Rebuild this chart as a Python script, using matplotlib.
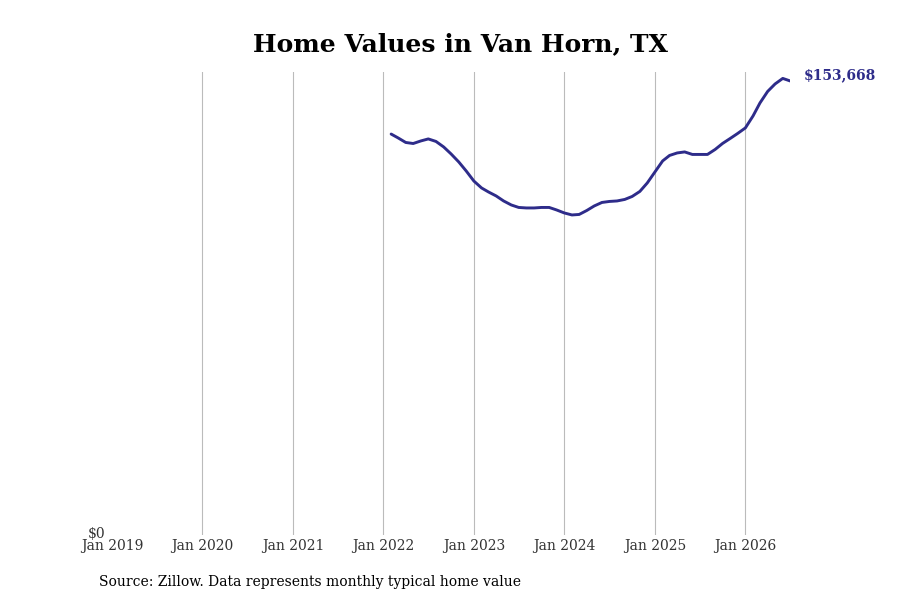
import matplotlib
matplotlib.use("Agg")
import matplotlib.pyplot as plt
import matplotlib.transforms as mtransforms
import pandas as pd

plot_title = "Home Values in Van Horn, TX"
source_text = "Source: Zillow. Data represents monthly typical home value"

# monthly typical home value, Feb 2022 .. Jul 2026
months = pd.date_range("2022-02-01", "2026-07-01", freq="MS")
values = [
    135700, 134400, 132850, 132500, 133370, 134050, 133200, 131340, 128970, 126260, 123210,   # 2022
    119800, 117460, 116100, 114750, 113060, 111700, 110860, 110690, 110690, 110860, 110860, 110010,  # 2023
    109000, 108320, 108490, 109840, 111370, 112550, 112890, 113060, 113570, 114580, 116280, 119150,  # 2024
    122880, 126600, 128460, 129310, 129650, 128800, 128800, 128800, 130490, 132520, 134220, 135910,  # 2025
    137770, 141830, 146230, 150130, 152660, 154530, 153668,  # 2026
]
last_label = "$153,668"

tick_years = list(range(2019, 2027))
tick_dates = [pd.Timestamp(f"{y}-01-01") for y in tick_years]
tick_labels = [f"Jan {y}" for y in tick_years]

line_color = "#2e2c8a"

plt.rcParams["font.family"] = ["DejaVu Serif"]

fig = plt.figure(figsize=(9, 6), dpi=100)
ax = fig.add_axes([0.1244, 0.1083, 0.7536, 0.7717])

ax.plot(months, values, color=line_color, linewidth=2.1, solid_capstyle="round")

ax.set_xlim(pd.Timestamp("2019-01-01"), months[-1])
ax.set_ylim(0, 156700)

ax.set_xticks(tick_dates)
ax.set_xticklabels(tick_labels)
ax.set_yticks([0])
ax.set_yticklabels(["$0"])
ax.tick_params(axis="both", length=0, labelsize=10, colors="#333333")
ax.tick_params(axis="x", pad=3)
ax.tick_params(axis="y", pad=5)
# lift "$0" a few pixels so it sits just above the first date label
lift = mtransforms.ScaledTranslation(0, 3 / 100, fig.dpi_scale_trans)
for lbl in ax.get_yticklabels():
    lbl.set_transform(lbl.get_transform() + lift)

ax.grid(axis="x", color="#bbbbbb", linewidth=0.8)
ax.grid(axis="y", visible=False)
ax.xaxis.get_gridlines()[0].set_visible(False)
for s in ax.spines.values():
    s.set_visible(False)

ax.annotate(last_label, xy=(months[-1], values[-1]), xytext=(10, 4),
            textcoords="offset points", color=line_color, fontsize=10,
            fontweight="bold", va="center", ha="left", annotation_clip=False)

fig.text(0.512, 0.927, plot_title, ha="center", va="center",
         fontsize=18, fontweight="bold", color="black")
fig.text(0.11, 0.03, source_text, ha="left", va="center", fontsize=10, color="black")

fig.savefig("out.png", dpi=100)
